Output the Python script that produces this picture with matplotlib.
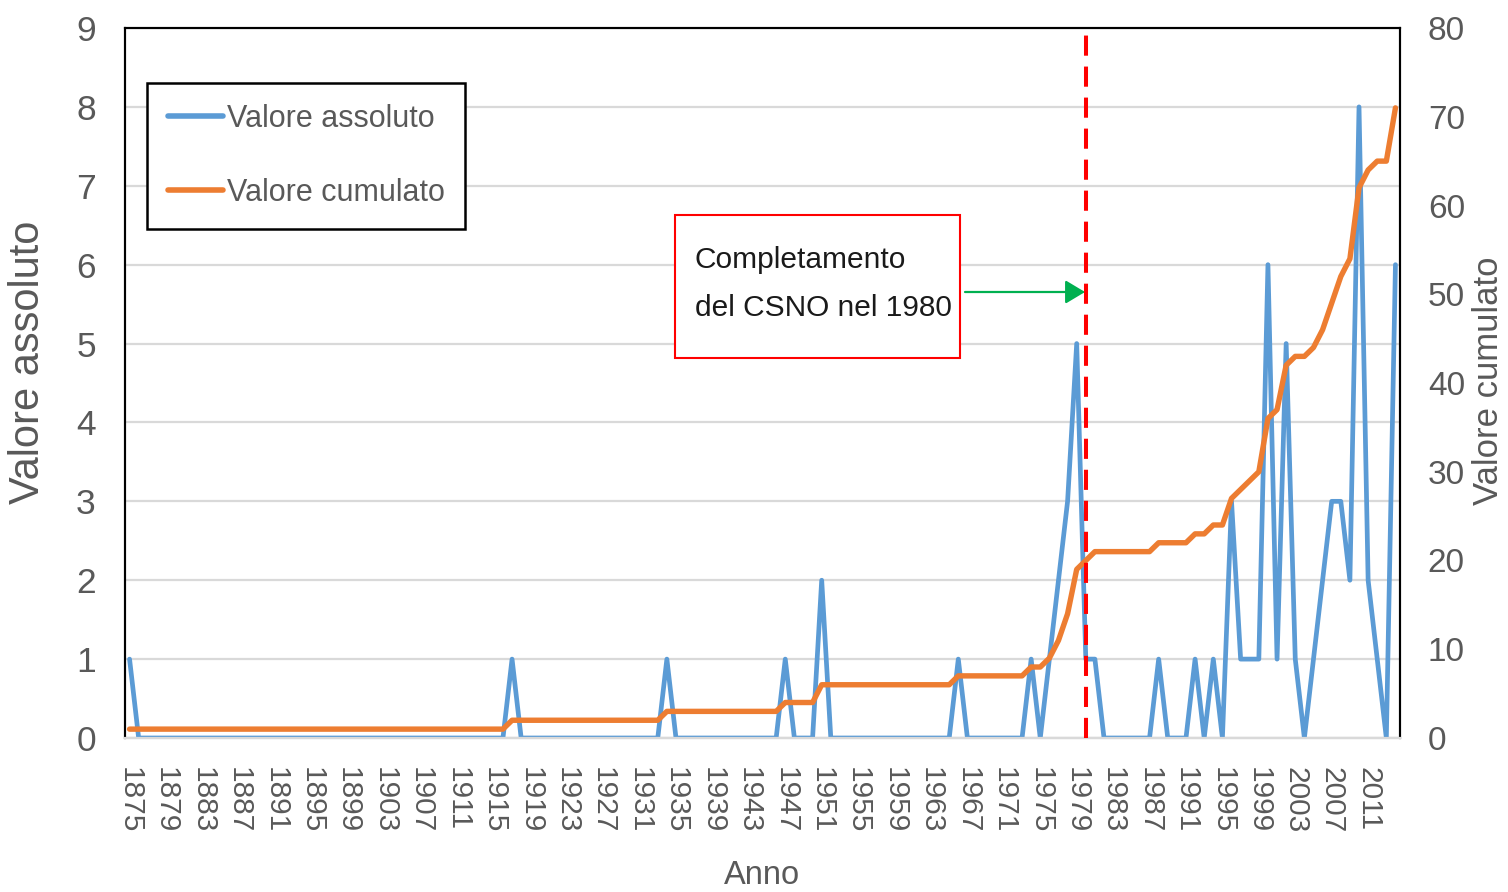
import matplotlib
matplotlib.use("Agg")
import matplotlib.pyplot as plt
from matplotlib.patches import Rectangle, FancyArrowPatch
from matplotlib.lines import Line2D

# ---------------- data ----------------
years = list(range(1875, 2015))
valore_assoluto = [
    1, 0, 0, 0, 0, 0, 0, 0, 0, 0,   # 1875-1884
    0, 0, 0, 0, 0, 0, 0, 0, 0, 0,   # 1885-1894
    0, 0, 0, 0, 0, 0, 0, 0, 0, 0,   # 1895-1904
    0, 0, 0, 0, 0, 0, 0, 0, 0, 0,   # 1905-1914
    0, 0, 1, 0, 0, 0, 0, 0, 0, 0,   # 1915-1924
    0, 0, 0, 0, 0, 0, 0, 0, 0, 1,   # 1925-1934
    0, 0, 0, 0, 0, 0, 0, 0, 0, 0,   # 1935-1944
    0, 0, 1, 0, 0, 0, 2, 0, 0, 0,   # 1945-1954
    0, 0, 0, 0, 0, 0, 0, 0, 0, 0,   # 1955-1964
    0, 1, 0, 0, 0, 0, 0, 0, 0, 1,   # 1965-1974
    0, 1, 2, 3, 5, 1, 1, 0, 0, 0,   # 1975-1984
    0, 0, 0, 1, 0, 0, 0, 1, 0, 1,   # 1985-1994
    0, 3, 1, 1, 1, 6, 1, 5, 1, 0,   # 1995-2004
    1, 2, 3, 3, 2, 8, 2, 1, 0, 6,   # 2005-2014
]
valore_cumulato = [
    1, 1, 1, 1, 1, 1, 1, 1, 1, 1,
    1, 1, 1, 1, 1, 1, 1, 1, 1, 1,
    1, 1, 1, 1, 1, 1, 1, 1, 1, 1,
    1, 1, 1, 1, 1, 1, 1, 1, 1, 1,
    1, 1, 2, 2, 2, 2, 2, 2, 2, 2,
    2, 2, 2, 2, 2, 2, 2, 2, 2, 3,
    3, 3, 3, 3, 3, 3, 3, 3, 3, 3,
    3, 3, 4, 4, 4, 4, 6, 6, 6, 6,
    6, 6, 6, 6, 6, 6, 6, 6, 6, 6,
    6, 7, 7, 7, 7, 7, 7, 7, 7, 8,
    8, 9, 11, 14, 19, 20, 21, 21, 21, 21,
    21, 21, 21, 22, 22, 22, 22, 23, 23, 24,
    24, 27, 28, 29, 30, 36, 37, 42, 43, 43,
    44, 46, 49, 52, 54, 62, 64, 65, 65, 71,
]
tick_years = list(range(1875, 2012, 4))
left_ticks = list(range(0, 10))
right_ticks = list(range(0, 81, 10))
event_year = 1980
series_labels = ["Valore assoluto", "Valore cumulato"]
note_text = "Completamento\ndel CSNO nel 1980"

# ---------------- style ----------------
W, H = 1508, 892
FONT = ["Liberation Sans", "DejaVu Sans"]
GRAY = "#595959"
BLUE = "#5B9BD5"
ORANGE = "#ED7D31"

def fx(px):
    return px / W

def fy(py):
    return 1 - py / H

fig = plt.figure(figsize=(W / 100, H / 100), dpi=100)
fig.patch.set_facecolor("white")
ax = fig.add_axes([fx(125), fy(738), (1400 - 125) / W, (738 - 28) / H])
ax2 = ax.twinx()

ax.plot(years, valore_assoluto, color=BLUE, lw=3.4, solid_joinstyle="round",
        solid_capstyle="round", zorder=3)
ax2.plot(years, valore_cumulato, color=ORANGE, lw=3.9, solid_joinstyle="round",
         solid_capstyle="round", zorder=3)

ax.set_xlim(1874.5, 2014.5)
ax.set_ylim(0, 9)
ax2.set_ylim(0, 80)

ax.set_yticks(left_ticks)
ax2.set_yticks(right_ticks)
ax.set_xticks(tick_years)
ax.set_xticklabels([str(y) for y in tick_years], rotation=-90, ha="center", va="top",
                   fontsize=21.5, color=GRAY, family=FONT)
ax.tick_params(axis="x", length=0, pad=21)
ax.tick_params(axis="y", length=0, pad=21, labelsize=25.5, labelcolor=GRAY)
ax2.tick_params(axis="y", length=0, pad=20, labelsize=24, labelcolor=GRAY)
for lab in ax.get_yticklabels() + ax2.get_yticklabels():
    lab.set_family(FONT)

ax.grid(axis="y", color="#D9D9D9", lw=1.6, zorder=0)
ax.set_axisbelow(True)
for a in (ax, ax2):
    for s in ("left", "right", "top"):
        a.spines[s].set_color("black")
        a.spines[s].set_linewidth(1.5)
    a.spines["bottom"].set_color("#D9D9D9")
    a.spines["bottom"].set_linewidth(1.6)

# event line
ax2.axvline(event_year, color="#FF0000", lw=2.9, dashes=(5, 2.7), zorder=5)

# axis titles
fig.text(fx(28), fy(362), "Valore assoluto", rotation=90, ha="center", va="center",
         fontsize=30, color=GRAY, family=FONT)
fig.text(fx(1488), fy(381), "Valore cumulato", rotation=90, ha="center", va="center",
         fontsize=25, color=GRAY, family=FONT)
fig.text(fx(762), fy(876), "Anno", ha="center", va="center",
         fontsize=23.5, color=GRAY, family=FONT)

# legend
handles = [Line2D([], [], color=BLUE, lw=4.0, solid_capstyle="round"),
           Line2D([], [], color=ORANGE, lw=4.0, solid_capstyle="round")]
leg = ax2.legend(handles, series_labels, loc="upper left",
                 bbox_to_anchor=((147 - 125) / 1275, (738 - 83) / 710),
                 borderaxespad=0, frameon=True, fancybox=False, framealpha=1,
                 edgecolor="black", handlelength=1.8, handletextpad=0.13,
                 labelspacing=1.45, borderpad=0.68,
                 prop={"family": FONT, "size": 22})
leg.get_frame().set_linewidth(1.8)
for t in leg.get_texts():
    t.set_color(GRAY)
leg.set_zorder(10)

# annotation box
fig.add_artist(Rectangle((fx(675), fy(358)), (960 - 675) / W, (358 - 215) / H,
                         transform=fig.transFigure, facecolor="white",
                         edgecolor="#FF0000", lw=1.5, zorder=10))
fig.text(fx(695), fy(284), note_text, ha="left", va="center", fontsize=21.5,
         color="#1a1a1a", family=FONT, linespacing=1.9, zorder=11)
fig.add_artist(FancyArrowPatch((fx(965), fy(292)), (fx(1085), fy(292)),
                               transform=fig.transFigure,
                               arrowstyle="-|>,head_length=0.6,head_width=0.36",
                               mutation_scale=20, color="#00B050", lw=1.6,
                               shrinkA=0, shrinkB=0, zorder=11))

fig.savefig("out.png", dpi=100, facecolor="white")
